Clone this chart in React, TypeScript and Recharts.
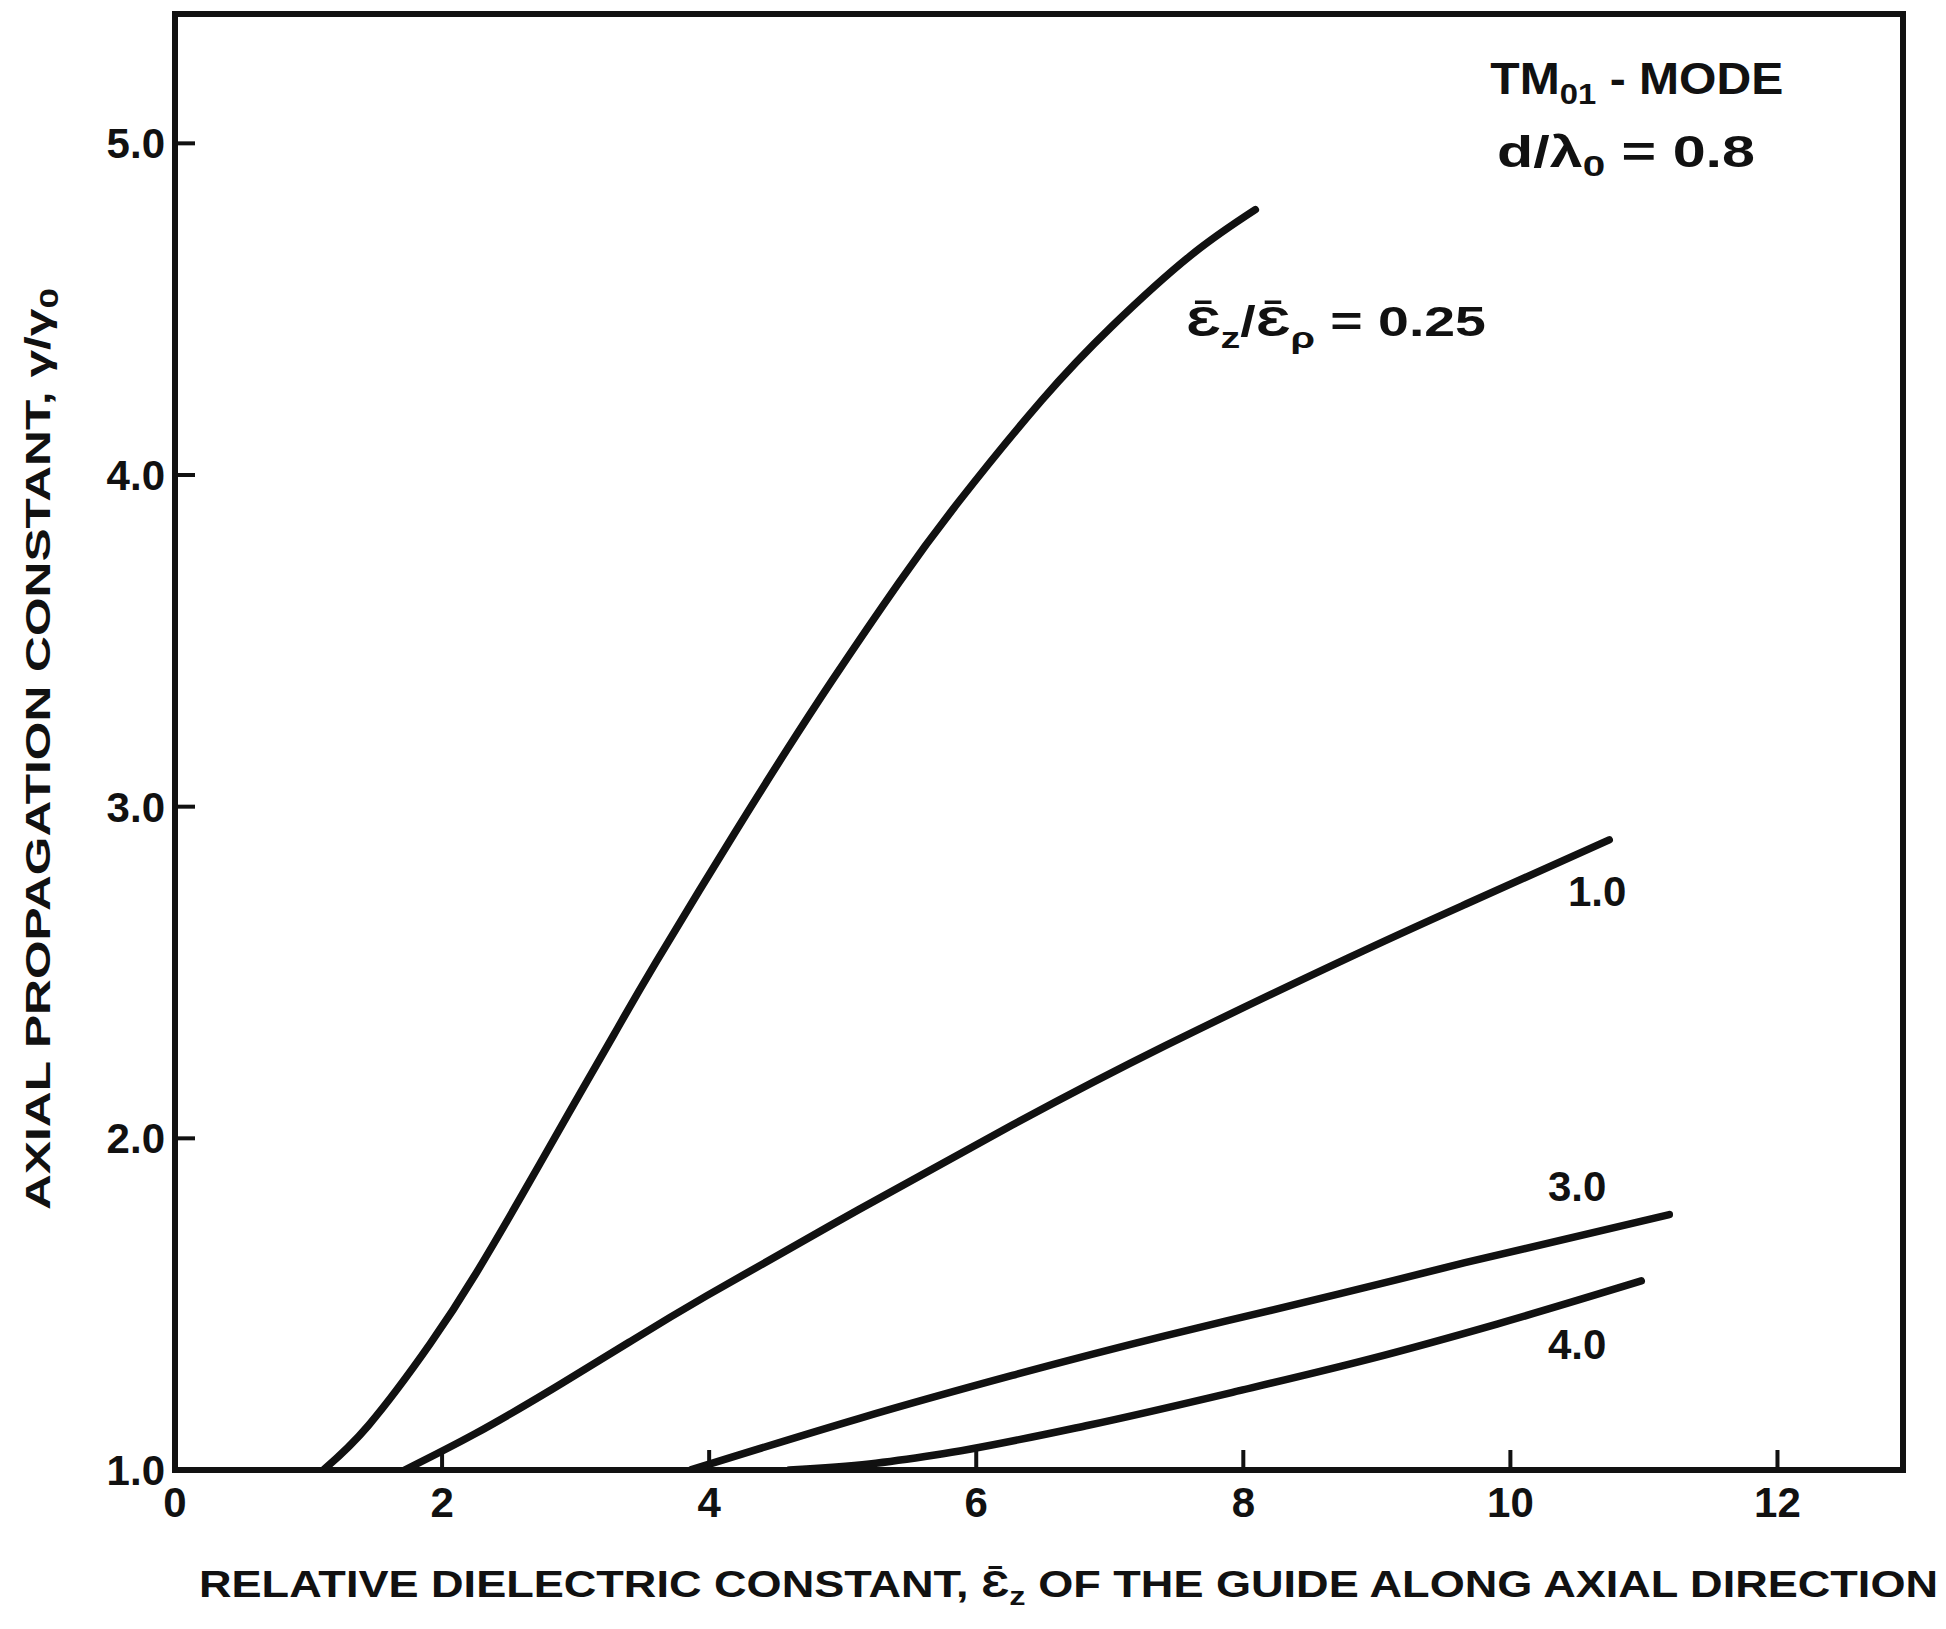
import React from 'react';
import { LineChart, Line, XAxis, YAxis, ReferenceArea, ReferenceDot } from 'recharts';

// TM01 mode, d/λ0 = 0.8: axial propagation constant γ/γ0 against ε̄z,
// one curve for each anisotropy ratio ε̄z/ε̄ρ.
const ratio025X = [1.11, 1.45, 1.91, 2.25, 2.6, 2.94, 3.29, 3.6, 4.19, 4.58, 4.92, 5.42, 5.87, 6.49, 7.02, 7.6, 8.09];
const ratio025Y = [1.0, 1.135, 1.38, 1.59, 1.83, 2.07, 2.315, 2.53, 2.92, 3.17, 3.38, 3.675, 3.92, 4.225, 4.45, 4.66, 4.8];

const ratio10X = [1.72, 2.25, 2.83, 3.4, 3.98, 5.12, 6.27, 7.42, 8.79, 9.66, 10.74];
const ratio10Y = [1.0, 1.11, 1.245, 1.385, 1.525, 1.785, 2.04, 2.28, 2.545, 2.705, 2.9];

const ratio30X = [3.86, 5.12, 6.27, 7.42, 8.71, 9.66, 11.19];
const ratio30Y = [1.0, 1.155, 1.285, 1.405, 1.53, 1.625, 1.77];

const ratio40X = [4.6, 5.2, 5.69, 6.84, 7.98, 8.95, 9.9, 10.98];
const ratio40Y = [1.0, 1.018, 1.045, 1.135, 1.24, 1.335, 1.44, 1.57];

const xTicks = [0, 2, 4, 6, 8, 10, 12];
const yTicks = [1, 2, 3, 4, 5];
const xDomain: [number, number] = [0, 12.94];
const yDomain: [number, number] = [1, 5.39];

const zip = (xs: number[], ys: number[]) => xs.map((x, i) => ({ x, y: ys[i] }));

const FONT = '"Liberation Sans", Arial, "DejaVu Sans", sans-serif';
const INK = '#111';
const EPS = 'Ɛ\u0304';
const CURVE_W = 7.5;

const textStyle = {
  fontFamily: FONT,
  fontWeight: 700 as const,
  fill: INK,
};

// Plain text anchored at a ReferenceDot position
const Tag = (props: any) => {
  const { viewBox, children, anchor = 'start', size = 44, span } = props;
  const x = viewBox.x + viewBox.width / 2;
  const y = viewBox.y + viewBox.height / 2;
  return (
    <text
      x={x}
      y={y}
      textAnchor={anchor}
      fontSize={size}
      {...textStyle}
      {...(span ? { textLength: span, lengthAdjust: 'spacingAndGlyphs' } : {})}
    >
      {children}
    </text>
  );
};

const XTitle = (props: any) => {
  const { viewBox } = props;
  return (
    <text
      x={viewBox.x + 24}
      y={viewBox.y + 127}
      fontSize={36}
      textLength={1739}
      lengthAdjust="spacingAndGlyphs"
      {...textStyle}
    >
      RELATIVE DIELECTRIC CONSTANT, {EPS}
      <tspan fontSize={26} dy={8}>z</tspan>
      <tspan dy={-8}> OF THE GUIDE ALONG AXIAL DIRECTION</tspan>
    </text>
  );
};

const YTitle = (props: any) => {
  const { viewBox } = props;
  const cx = viewBox.x + viewBox.width - 137;
  const cy = viewBox.y + viewBox.height / 2 + 7;
  return (
    <text
      x={cx}
      y={cy + 12}
      textAnchor="middle"
      transform={`rotate(-90, ${cx}, ${cy})`}
      fontSize={35}
      textLength={922}
      lengthAdjust="spacingAndGlyphs"
      {...textStyle}
    >
      AXIAL PROPAGATION CONSTANT, γ/γ
      <tspan fontSize={26} dy={8}>0</tspan>
    </text>
  );
};

const tickFont = { fontFamily: FONT, fontWeight: 700, fontSize: 42, fill: INK };

export default function App() {
  return (
    <div style={{ width: 1930, height: 1613, background: '#fff' }}>
      <LineChart
        width={1930}
        height={1613}
        margin={{ top: 6, right: 35, bottom: 91, left: 107 }}
      >
        <XAxis
          dataKey="x"
          type="number"
          domain={xDomain}
          ticks={xTicks}
          allowDataOverflow
          height={60}
          axisLine={{ stroke: INK, strokeWidth: 6 }}
          tickLine={{ stroke: INK, strokeWidth: 4 }}
          tickSize={-20}
          tickMargin={37}
          tick={tickFont}
          interval={0}
          label={<XTitle />}
        />
        <YAxis
          type="number"
          domain={yDomain}
          ticks={yTicks}
          allowDataOverflow
          width={60}
          axisLine={{ stroke: INK, strokeWidth: 6 }}
          tickLine={{ stroke: INK, strokeWidth: 4 }}
          tickSize={-20}
          tickMargin={30}
          tick={tickFont}
          interval={0}
          tickFormatter={(v: number) => v.toFixed(1)}
          label={<YTitle />}
        />
        <ReferenceArea
          x1={xDomain[0]}
          x2={xDomain[1]}
          y1={yDomain[0]}
          y2={yDomain[1]}
          fill="none"
          stroke={INK}
          strokeWidth={6}
          ifOverflow="visible"
        />
        <Line data={zip(ratio025X, ratio025Y)} dataKey="y" type="natural" stroke={INK} strokeWidth={CURVE_W} strokeLinecap="round" dot={false} isAnimationActive={false} />
        <Line data={zip(ratio10X, ratio10Y)} dataKey="y" type="natural" stroke={INK} strokeWidth={CURVE_W} strokeLinecap="round" dot={false} isAnimationActive={false} />
        <Line data={zip(ratio30X, ratio30Y)} dataKey="y" type="natural" stroke={INK} strokeWidth={CURVE_W} strokeLinecap="round" dot={false} isAnimationActive={false} />
        <Line data={zip(ratio40X, ratio40Y)} dataKey="y" type="monotone" stroke={INK} strokeWidth={CURVE_W} strokeLinecap="round" dot={false} isAnimationActive={false} />

        <ReferenceDot x={9.85} y={5.148} r={0} fill="none" stroke="none" ifOverflow="visible"
          label={<Tag span={293}>TM<tspan fontSize={30} dy={10}>01</tspan><tspan dy={-10}> - MODE</tspan></Tag>} />
        <ReferenceDot x={9.9} y={4.93} r={0} fill="none" stroke="none" ifOverflow="visible"
          label={<Tag span={258}>d/λ<tspan fontSize={30} dy={9}>0</tspan><tspan dy={-9}> = 0.8</tspan></Tag>} />
        <ReferenceDot x={7.57} y={4.42} r={0} fill="none" stroke="none" ifOverflow="visible"
          label={<Tag size={42} span={300}>{EPS}<tspan fontSize={30} dy={12}>z</tspan><tspan dy={-12}>/{EPS}</tspan><tspan fontSize={30} dy={12}>ρ</tspan><tspan dy={-12}> = 0.25</tspan></Tag>} />
        <ReferenceDot x={10.65} y={2.7} r={0} fill="none" stroke="none" ifOverflow="visible"
          label={<Tag anchor="middle" size={42}>1.0</Tag>} />
        <ReferenceDot x={10.5} y={1.81} r={0} fill="none" stroke="none" ifOverflow="visible"
          label={<Tag anchor="middle" size={42}>3.0</Tag>} />
        <ReferenceDot x={10.5} y={1.335} r={0} fill="none" stroke="none" ifOverflow="visible"
          label={<Tag anchor="middle" size={42}>4.0</Tag>} />
      </LineChart>
    </div>
  );
}
